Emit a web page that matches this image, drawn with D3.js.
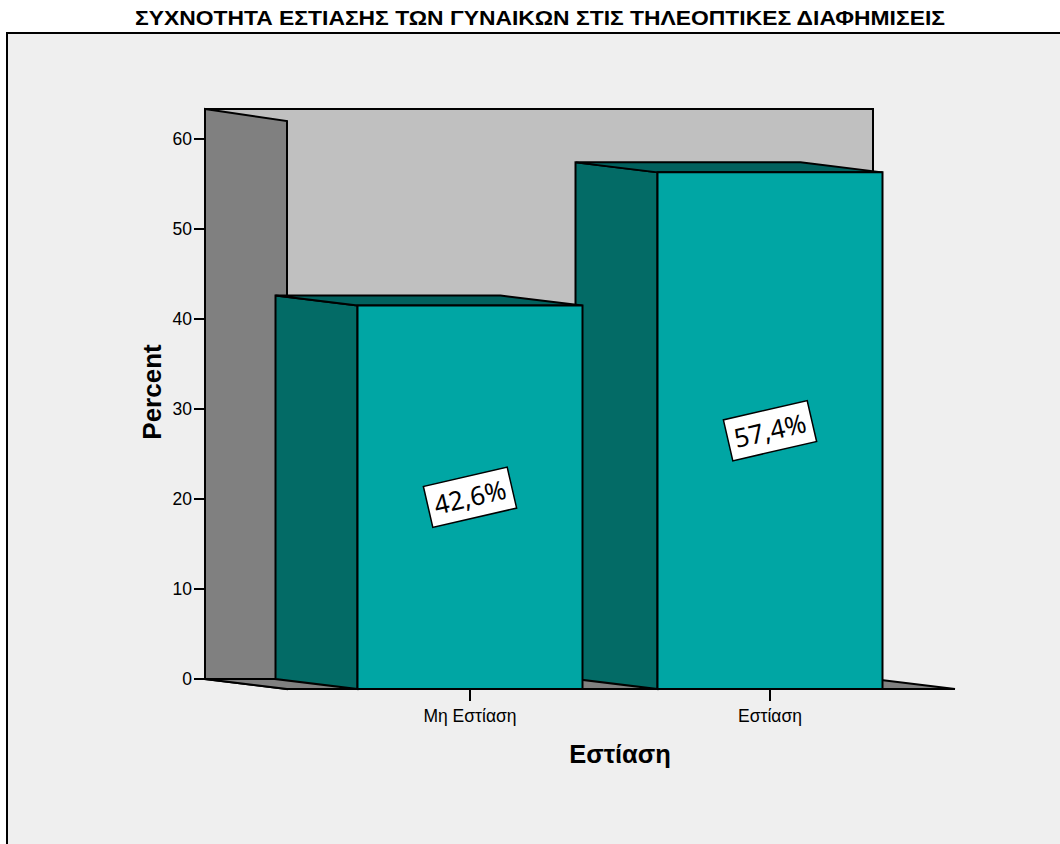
<!DOCTYPE html>
<html>
<head>
<meta charset="utf-8">
<script src="https://cdn.jsdelivr.net/npm/d3@7"></script>
<style>
  html, body { margin: 0; padding: 0; background: #ffffff; }
  svg { display: block; }
</style>
</head>
<body>
<script>
// Data
const categories = ["Μη Εστίαση", "Εστίαση"];
const percents = [42.6, 57.4];
const valueLabels = ["42,6%", "57,4%"];
const yTicks = [0, 10, 20, 30, 40, 50, 60];
const chartTitle = "ΣΥΧΝΟΤΗΤΑ ΕΣΤΙΑΣΗΣ ΤΩΝ ΓΥΝΑΙΚΩΝ ΣΤΙΣ ΤΗΛΕΟΠΤΙΚΕΣ ΔΙΑΦΗΜΙΣΕΙΣ";
const xTitle = "Εστίαση";
const yTitle = "Percent";

const W = 1060, H = 844;
const svg = d3.select("body").append("svg").attr("width", W).attr("height", H);

// 3D depth offset (back plane -> front plane)
const DX = 82, DY = 10;

// Scales: y on back plane, x on front plane
const y = d3.scaleLinear().domain([0, 63.33]).range([679, 109]);
const x = d3.scaleBand().domain(categories).range([320, 920]).paddingInner(0.25).paddingOuter(0.125);

const backLeft = 205, backRight = 873;
const frontLeft = backLeft + DX, frontRight = backRight + DX;

// Outer frame
svg.append("rect").attr("x", 7).attr("y", 33).attr("width", W + 10).attr("height", H)
  .attr("fill", "#efefef").attr("stroke", "#000").attr("stroke-width", 2);

// Title
svg.append("text").attr("x", 540).attr("y", 25).attr("text-anchor", "middle")
  .attr("font-family", "'Liberation Sans Narrow', 'Liberation Sans', Arial, sans-serif")
  .attr("font-weight", "bold").attr("font-size", 21)
  .attr("textLength", 810).attr("lengthAdjust", "spacingAndGlyphs")
  .text(chartTitle);

const line = d3.line();
const poly = (pts, fill) => svg.append("path").attr("d", line(pts) + "Z")
  .attr("fill", fill).attr("stroke", "#000").attr("stroke-width", 2).attr("stroke-linejoin", "miter");

// Back wall
poly([[backLeft, y.range()[1]], [backRight, y.range()[1]], [backRight, y(0)], [backLeft, y(0)]], "#c0c0c0");
// Left wall
poly([[backLeft, y.range()[1]], [frontLeft, y.range()[1] + DY + 2], [frontLeft, y(0) + DY], [backLeft, y(0)]], "#808080");
// Floor
poly([[backLeft, y(0)], [backRight, y(0)], [frontRight, y(0) + DY], [frontLeft, y(0) + DY]], "#808080");

// Bars (right to left so nearer-left bars overlap)
const bars = categories.map((c, i) => ({ c, v: percents[i], label: valueLabels[i] }));
bars.slice().reverse().forEach(d => {
  const fx0 = x(d.c), fx1 = x(d.c) + x.bandwidth();
  const bx0 = fx0 - DX, bx1 = fx1 - DX;
  const bTop = y(d.v), fTop = y(d.v) + DY;
  const bBot = y(0), fBot = y(0) + DY;
  // side face
  poly([[bx0, bTop], [fx0, fTop], [fx0, fBot], [bx0, bBot]], "#036b66");
  // top face
  poly([[bx0, bTop], [bx1, bTop], [fx1, fTop], [fx0, fTop]], "#02615e");
  // front face
  poly([[fx0, fTop], [fx1, fTop], [fx1, fBot], [fx0, fBot]], "#00a6a4");
});

// Y axis ticks and labels
const yAxis = svg.append("g");
yAxis.append("line").attr("x1", backLeft).attr("x2", backLeft).attr("y1", y.range()[1]).attr("y2", y(0))
  .attr("stroke", "#000").attr("stroke-width", 2);
yTicks.forEach(t => {
  yAxis.append("line").attr("x1", 194).attr("x2", backLeft).attr("y1", y(t)).attr("y2", y(t))
    .attr("stroke", "#000").attr("stroke-width", 2);
  yAxis.append("text").attr("x", 192).attr("y", y(t)).attr("dy", "0.36em").attr("text-anchor", "end")
    .attr("font-family", "'Liberation Sans', Arial, sans-serif").attr("font-size", 17.5).text(t);
});

// X axis ticks and labels
categories.forEach(c => {
  const cx = x(c) + x.bandwidth() / 2;
  svg.append("line").attr("x1", cx).attr("x2", cx).attr("y1", y(0) + DY).attr("y2", y(0) + DY + 12)
    .attr("stroke", "#000").attr("stroke-width", 2);
  svg.append("text").attr("x", cx).attr("y", 722).attr("text-anchor", "middle")
    .attr("font-family", "'Liberation Sans', Arial, sans-serif").attr("font-size", 17.5).text(c);
});

// Axis titles
svg.append("text").attr("x", 620).attr("y", 763).attr("text-anchor", "middle")
  .attr("font-family", "'Liberation Sans', Arial, sans-serif").attr("font-weight", "bold").attr("font-size", 25.5)
  .text(xTitle);
svg.append("text").attr("transform", "translate(161,392) rotate(-90)").attr("text-anchor", "middle")
  .attr("font-family", "'Liberation Sans', Arial, sans-serif").attr("font-weight", "bold").attr("font-size", 26)
  .text(yTitle);

// Value labels, centred on each bar's front face
bars.forEach(d => {
  const cx = x(d.c) + x.bandwidth() / 2;
  const cy = ((y(d.v) + DY) + (y(0) + DY)) / 2;
  const g = svg.append("g").attr("transform", `translate(${cx},${cy}) rotate(-13)`);
  g.append("rect").attr("x", -43).attr("y", -21).attr("width", 86).attr("height", 42)
    .attr("fill", "#fff").attr("stroke", "#000").attr("stroke-width", 1.5);
  g.append("text").attr("x", 0).attr("y", 0).attr("dy", "0.36em").attr("text-anchor", "middle")
    .attr("font-family", "'Noto Sans', 'Open Sans', sans-serif").attr("font-size", 26)
    .text(d.label);
});
</script>
</body>
</html>
